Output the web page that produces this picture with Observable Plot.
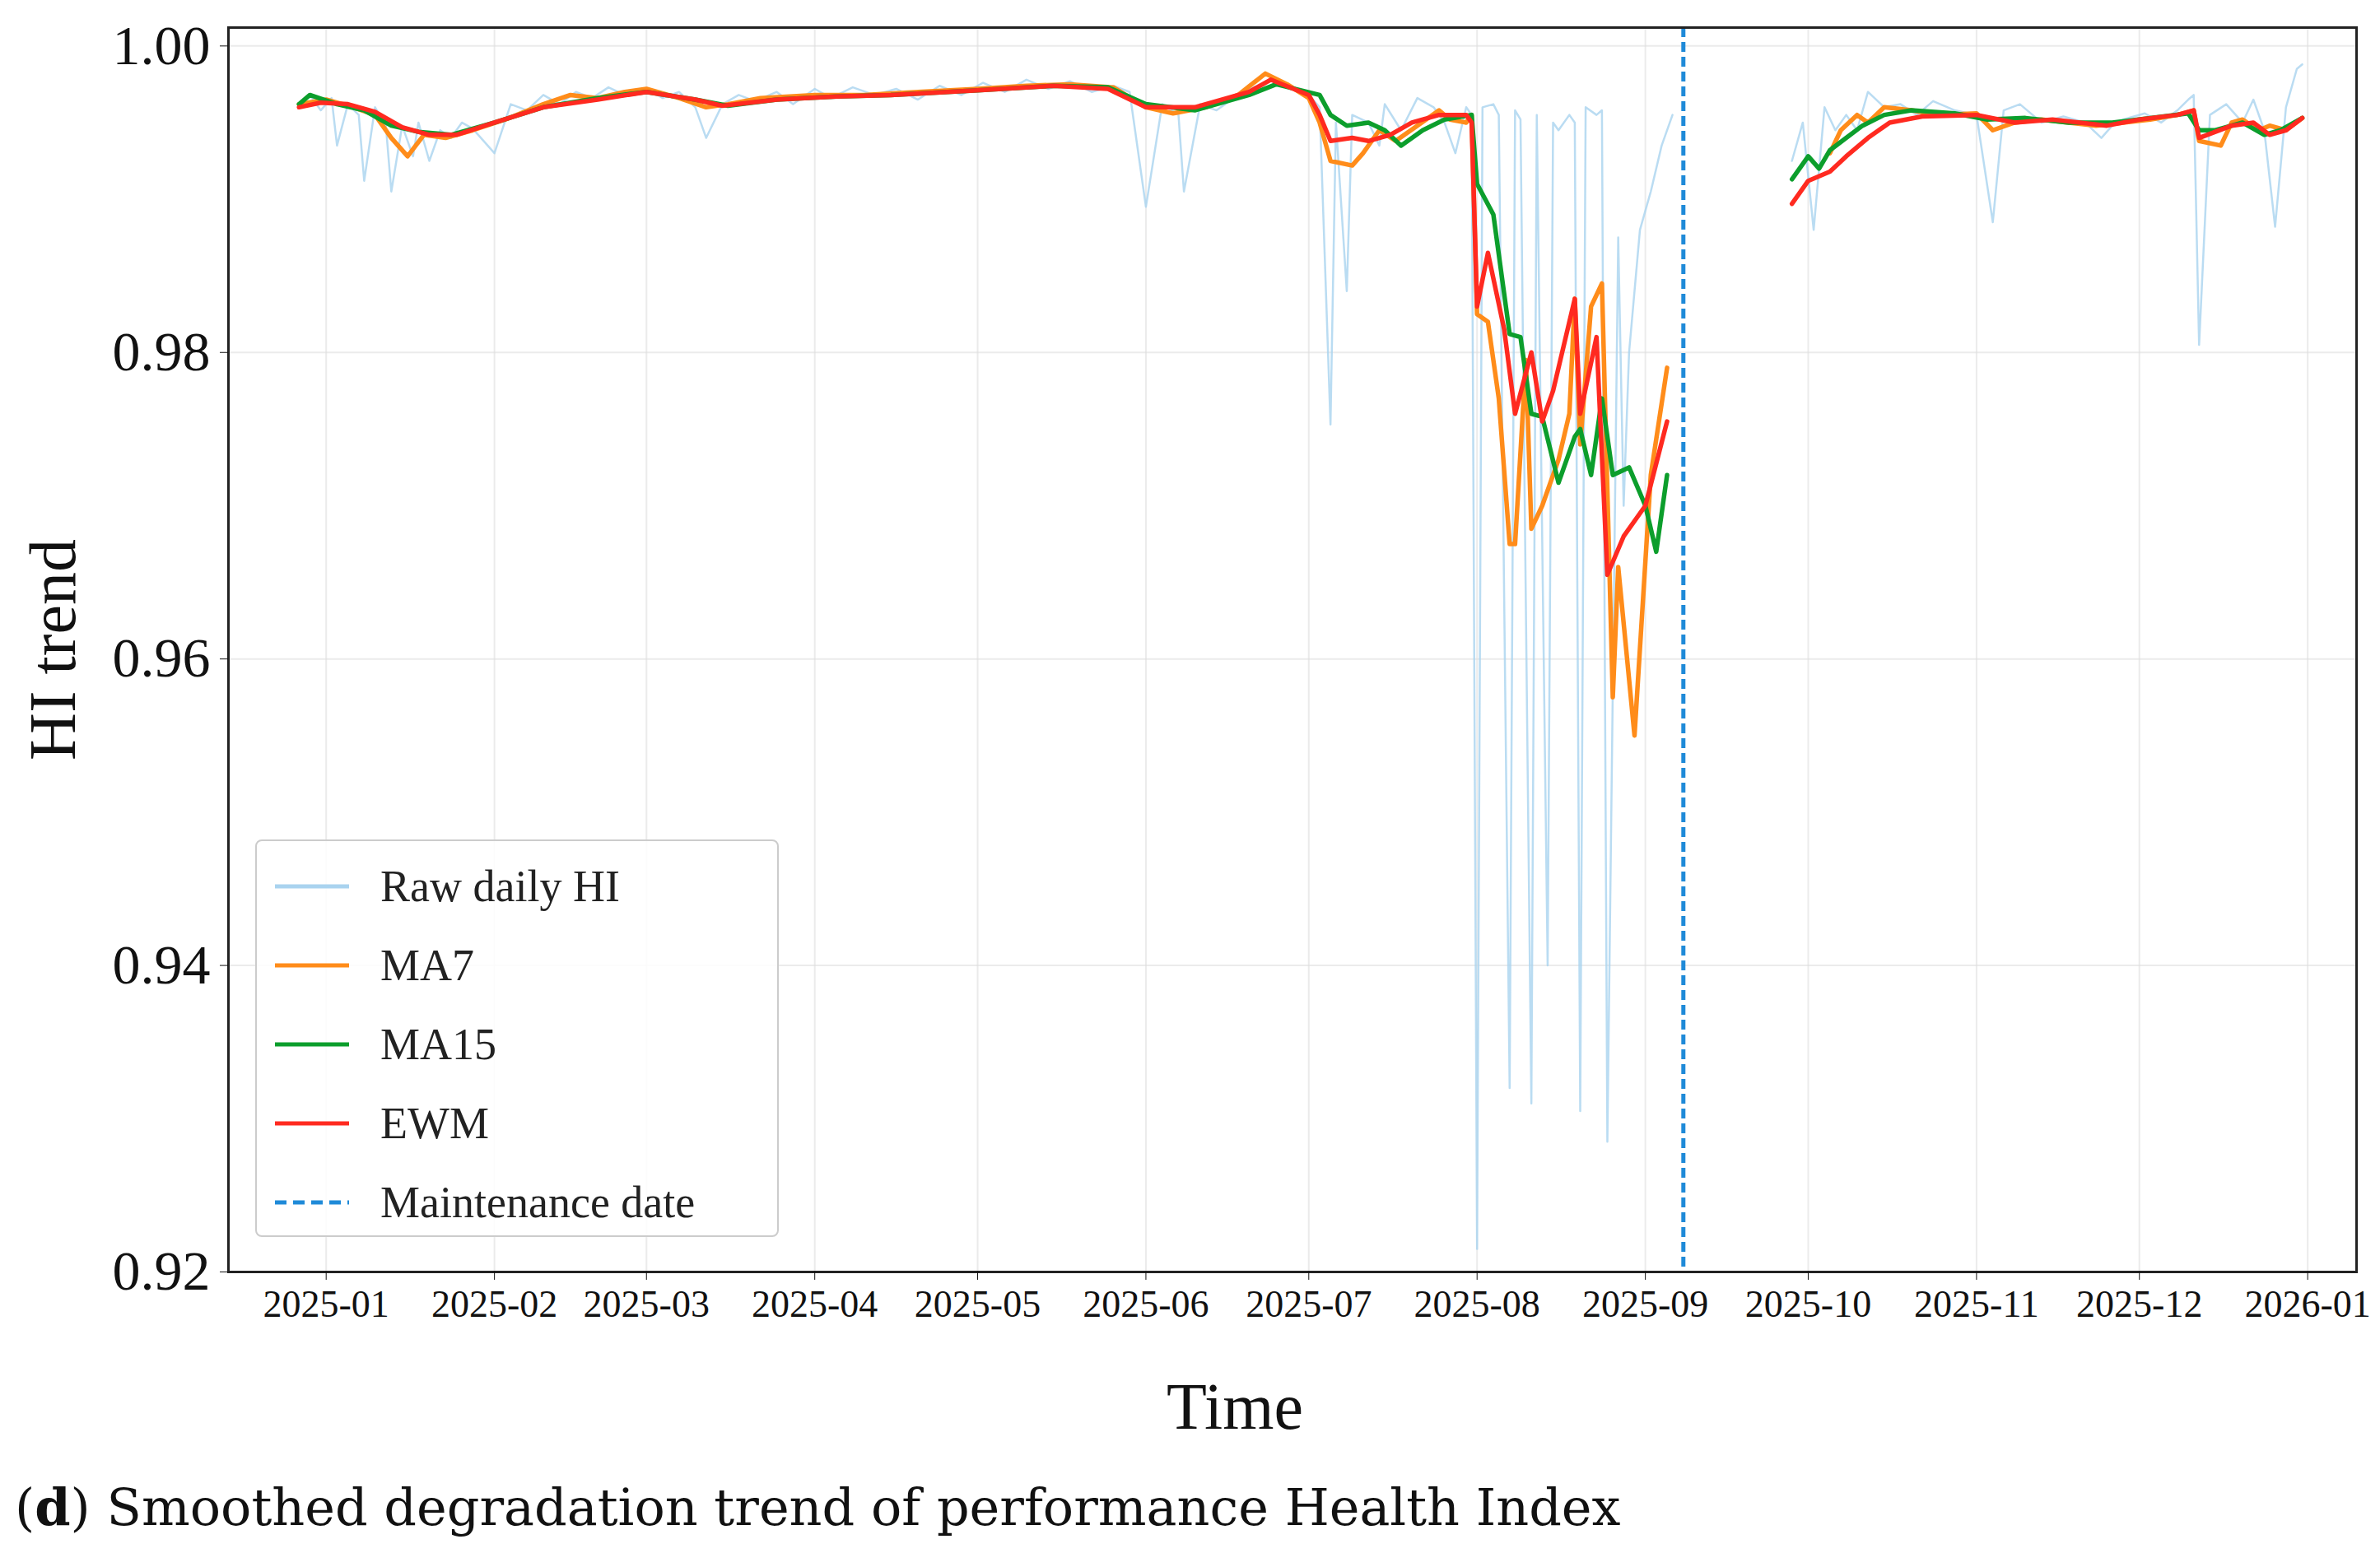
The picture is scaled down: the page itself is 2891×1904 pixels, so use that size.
<!DOCTYPE html>
<html><head><meta charset="utf-8">
<script src="https://cdn.jsdelivr.net/npm/d3@7"></script>
<script src="https://cdn.jsdelivr.net/npm/@observablehq/plot@0.6"></script>
<style>
body{margin:0;background:#fff;width:2891px;height:1904px;position:relative;overflow:hidden}
#chart{position:absolute;left:0;top:0}
#legend{position:absolute;left:310px;top:1020px;width:636px;height:483px;border:2px solid #ccc;border-radius:8px;background:rgba(255,255,255,0.85);box-sizing:border-box;font-family:"Liberation Serif",serif;font-size:54px;color:#222}
.row{position:absolute;left:22px;height:60px;display:flex;align-items:center}
.row svg{margin-right:38px}
#caption{position:absolute;left:18px;top:1795px;font-family:"DejaVu Serif","Liberation Serif",serif;font-size:62px;color:#111}
</style></head><body>
<div id="chart"></div>
<div id="legend"></div>
<div id="caption">(<b>d</b>) Smoothed degradation trend of performance Health Index</div>
<script>
const xTicks=["2025-01-01","2025-02-01","2025-03-01","2025-04-01","2025-05-01","2025-06-01","2025-07-01","2025-08-01","2025-09-01","2025-10-01","2025-11-01","2025-12-01","2026-01-01"];
const yTicks=[0.92,0.94,0.96,0.98,1.00];
const maintenanceDate="2025-09-08";
const gapDate="2025-09-15";

const rawDates=["2024-12-27","2024-12-29","2024-12-31","2025-01-02","2025-01-03","2025-01-05","2025-01-07","2025-01-08","2025-01-10","2025-01-12","2025-01-13","2025-01-15","2025-01-17","2025-01-18","2025-01-20","2025-01-22","2025-01-24","2025-01-26","2025-01-28","2025-02-01","2025-02-04","2025-02-07","2025-02-10","2025-02-13","2025-02-16","2025-02-19","2025-02-22","2025-02-25","2025-03-01","2025-03-04","2025-03-07","2025-03-10","2025-03-12","2025-03-15","2025-03-18","2025-03-21","2025-03-25","2025-03-28","2025-04-01","2025-04-04","2025-04-08","2025-04-12","2025-04-16","2025-04-20","2025-04-24","2025-04-28","2025-05-02","2025-05-06","2025-05-10","2025-05-14","2025-05-18","2025-05-22","2025-05-26","2025-05-29","2025-06-01","2025-06-04","2025-06-07","2025-06-08","2025-06-11","2025-06-14","2025-06-18","2025-06-22","2025-06-25","2025-06-28","2025-07-01","2025-07-03","2025-07-05","2025-07-06","2025-07-08","2025-07-09","2025-07-12","2025-07-14","2025-07-15","2025-07-18","2025-07-21","2025-07-24","2025-07-26","2025-07-28","2025-07-30","2025-07-31","2025-08-01","2025-08-02","2025-08-04","2025-08-05","2025-08-07","2025-08-08","2025-08-09","2025-08-11","2025-08-12","2025-08-14","2025-08-15","2025-08-16","2025-08-18","2025-08-19","2025-08-20","2025-08-21","2025-08-23","2025-08-24","2025-08-25","2025-08-27","2025-08-28","2025-08-29","2025-08-31","2025-09-02","2025-09-04","2025-09-06",gapDate,"2025-09-28","2025-09-30","2025-10-02","2025-10-04","2025-10-06","2025-10-08","2025-10-10","2025-10-12","2025-10-15","2025-10-18","2025-10-21","2025-10-24","2025-10-28","2025-11-01","2025-11-04","2025-11-06","2025-11-09","2025-11-13","2025-11-17","2025-11-21","2025-11-24","2025-11-26","2025-11-28","2025-12-02","2025-12-05","2025-12-08","2025-12-10","2025-12-11","2025-12-12","2025-12-14","2025-12-17","2025-12-20","2025-12-22","2025-12-24","2025-12-26","2025-12-28","2025-12-30","2025-12-31"];
const rawValues=[0.9962,0.9968,0.9958,0.9966,0.9935,0.9962,0.9955,0.9912,0.9960,0.9948,0.9905,0.9948,0.9928,0.9950,0.9925,0.9945,0.9940,0.9950,0.9946,0.9930,0.9962,0.9958,0.9968,0.9962,0.9970,0.9966,0.9973,0.9968,0.9972,0.9966,0.9970,0.9960,0.9940,0.9962,0.9968,0.9964,0.9970,0.9962,0.9972,0.9966,0.9973,0.9968,0.9972,0.9965,0.9974,0.9968,0.9976,0.9970,0.9978,0.9972,0.9977,0.9970,0.9974,0.9970,0.9895,0.9962,0.9955,0.9905,0.9962,0.9958,0.9968,0.9975,0.9978,0.9972,0.9968,0.9960,0.9753,0.9950,0.9840,0.9955,0.9950,0.9935,0.9962,0.9945,0.9966,0.9960,0.9950,0.9930,0.9960,0.9955,0.9215,0.9960,0.9962,0.9955,0.9320,0.9958,0.9952,0.9310,0.9955,0.9400,0.9950,0.9945,0.9955,0.9950,0.9305,0.9960,0.9955,0.9958,0.9285,0.9875,0.9700,0.9800,0.9880,0.9905,0.9935,0.9955,null,0.9925,0.9950,0.9880,0.9960,0.9945,0.9955,0.9945,0.9970,0.9960,0.9962,0.9955,0.9964,0.9958,0.9955,0.9885,0.9958,0.9962,0.9950,0.9954,0.9950,0.9940,0.9948,0.9952,0.9956,0.9950,0.9958,0.9965,0.9968,0.9805,0.9955,0.9962,0.9950,0.9965,0.9945,0.9882,0.9960,0.9985,0.9988];

const ma7Dates=["2024-12-27","2025-01-01","2025-01-06","2025-01-10","2025-01-13","2025-01-16","2025-01-19","2025-01-23","2025-01-28","2025-02-03","2025-02-10","2025-02-15","2025-02-20","2025-02-25","2025-03-01","2025-03-07","2025-03-12","2025-03-16","2025-03-22","2025-04-01","2025-04-10","2025-04-20","2025-05-01","2025-05-10","2025-05-18","2025-05-26","2025-06-01","2025-06-06","2025-06-12","2025-06-18","2025-06-23","2025-06-27","2025-07-01","2025-07-03","2025-07-05","2025-07-09","2025-07-11","2025-07-14","2025-07-17","2025-07-21","2025-07-25","2025-07-27","2025-07-30","2025-07-31","2025-08-01","2025-08-03","2025-08-05","2025-08-07","2025-08-08","2025-08-10","2025-08-11","2025-08-13","2025-08-16","2025-08-18","2025-08-19","2025-08-20","2025-08-22","2025-08-24","2025-08-26","2025-08-27","2025-08-30","2025-09-02","2025-09-05",gapDate,"2025-10-05","2025-10-07","2025-10-10","2025-10-12","2025-10-15","2025-10-20","2025-10-25","2025-11-01","2025-11-04","2025-11-08","2025-11-13","2025-11-18","2025-11-23","2025-11-28","2025-12-03","2025-12-08","2025-12-11","2025-12-12","2025-12-16","2025-12-18","2025-12-20","2025-12-23","2025-12-25","2025-12-28","2025-12-31"];
const ma7Values=[0.9962,0.9965,0.9960,0.9955,0.9940,0.9928,0.9942,0.9940,0.9945,0.9952,0.9962,0.9968,0.9966,0.9970,0.9972,0.9966,0.9960,0.9962,0.9966,0.9968,0.9968,0.9970,0.9972,0.9974,0.9975,0.9973,0.9960,0.9956,0.9960,0.9968,0.9982,0.9975,0.9966,0.9950,0.9925,0.9922,0.9930,0.9945,0.9938,0.9948,0.9958,0.9952,0.9950,0.9955,0.9825,0.9820,0.9770,0.9675,0.9675,0.9795,0.9685,0.9700,0.9730,0.9760,0.9835,0.9740,0.9830,0.9845,0.9575,0.9660,0.9550,0.9720,0.9790,null,0.9930,0.9945,0.9955,0.9950,0.9960,0.9958,0.9955,0.9956,0.9945,0.9950,0.9952,0.9950,0.9948,0.9950,0.9952,0.9955,0.9958,0.9938,0.9935,0.9950,0.9952,0.9945,0.9948,0.9945,0.9953];

const ma15Dates=["2024-12-27","2024-12-29","2025-01-03","2025-01-08","2025-01-13","2025-01-18","2025-01-24","2025-02-01","2025-02-10","2025-02-20","2025-03-01","2025-03-10","2025-03-16","2025-03-25","2025-04-05","2025-04-15","2025-05-01","2025-05-15","2025-05-25","2025-06-01","2025-06-10","2025-06-20","2025-06-25","2025-07-03","2025-07-05","2025-07-08","2025-07-12","2025-07-15","2025-07-18","2025-07-22","2025-07-26","2025-07-31","2025-08-01","2025-08-04","2025-08-07","2025-08-09","2025-08-11","2025-08-13","2025-08-16","2025-08-19","2025-08-20","2025-08-22","2025-08-24","2025-08-26","2025-08-29","2025-09-01","2025-09-03","2025-09-05",gapDate,"2025-09-28","2025-10-01","2025-10-03","2025-10-05","2025-10-08","2025-10-11","2025-10-15","2025-10-20","2025-10-28","2025-11-03","2025-11-10","2025-11-18","2025-11-26","2025-12-03","2025-12-10","2025-12-12","2025-12-15","2025-12-20","2025-12-24","2025-12-27","2025-12-31"];
const ma15Values=[0.9962,0.9968,0.9962,0.9958,0.9948,0.9944,0.9942,0.9950,0.9960,0.9966,0.9970,0.9965,0.9961,0.9965,0.9967,0.9968,0.9971,0.9974,0.9973,0.9962,0.9958,0.9968,0.9975,0.9968,0.9955,0.9948,0.9950,0.9945,0.9935,0.9945,0.9952,0.9955,0.9910,0.9890,0.9812,0.9810,0.9760,0.9758,0.9715,0.9745,0.9750,0.9720,0.9770,0.9720,0.9725,0.9700,0.9670,0.9720,null,0.9913,0.9928,0.9920,0.9932,0.9940,0.9948,0.9955,0.9958,0.9956,0.9952,0.9953,0.9950,0.9950,0.9953,0.9956,0.9945,0.9945,0.9950,0.9942,0.9945,0.9953];

const ewmDates=["2024-12-27","2024-12-31","2025-01-05","2025-01-10","2025-01-15","2025-01-20","2025-01-25","2025-02-01","2025-02-10","2025-02-20","2025-03-01","2025-03-10","2025-03-15","2025-03-25","2025-04-05","2025-04-15","2025-05-01","2025-05-15","2025-05-25","2025-06-01","2025-06-10","2025-06-20","2025-06-24","2025-07-01","2025-07-03","2025-07-05","2025-07-09","2025-07-12","2025-07-16","2025-07-20","2025-07-25","2025-07-30","2025-07-31","2025-08-01","2025-08-03","2025-08-06","2025-08-08","2025-08-11","2025-08-13","2025-08-15","2025-08-19","2025-08-20","2025-08-23","2025-08-25","2025-08-28","2025-09-01","2025-09-05",gapDate,"2025-09-28","2025-10-01","2025-10-05","2025-10-08","2025-10-12","2025-10-16","2025-10-22","2025-11-01","2025-11-08","2025-11-15","2025-11-25","2025-12-01","2025-12-08","2025-12-11","2025-12-12","2025-12-18","2025-12-22","2025-12-25","2025-12-28","2025-12-31"];
const ewmValues=[0.9960,0.9963,0.9962,0.9957,0.9947,0.9942,0.9942,0.9950,0.9960,0.9965,0.9970,0.9965,0.9961,0.9965,0.9967,0.9968,0.9971,0.9974,0.9972,0.9960,0.9960,0.9970,0.9978,0.9968,0.9955,0.9938,0.9940,0.9938,0.9942,0.9950,0.9955,0.9955,0.9950,0.9830,0.9865,0.9815,0.9760,0.9800,0.9755,0.9775,0.9835,0.9760,0.9810,0.9655,0.9680,0.9700,0.9755,null,0.9897,0.9912,0.9918,0.9928,0.9940,0.9950,0.9954,0.9955,0.9950,0.9952,0.9948,0.9952,0.9955,0.9958,0.9940,0.9948,0.9950,0.9942,0.9945,0.9953];

const rows=(ds,vs)=>ds.map((d,i)=>({date:new Date(d),value:vs[i]}));
const series=[
 {name:"Raw daily HI",color:"#a9d3ef",width:2.5,opacity:0.8,data:rows(rawDates,rawValues)},
 {name:"MA7",color:"#ff8c1a",width:5.5,opacity:1,data:rows(ma7Dates,ma7Values)},
 {name:"MA15",color:"#0c9e2c",width:5.5,opacity:1,data:rows(ma15Dates,ma15Values)},
 {name:"EWM",color:"#ff2a20",width:5.5,opacity:1,data:rows(ewmDates,ewmValues)}
];
const maint="#1f8ad8";

const chart=Plot.plot({
  width:2891,height:1780,
  marginTop:33,marginBottom:235,marginLeft:277,marginRight:29,
  style:{fontFamily:"Liberation Serif, serif",background:"white",color:"#111"},
  x:{type:"utc",domain:[new Date("2024-12-14"),new Date("2026-01-10")],label:null},
  y:{domain:[0.92,1.0012],label:null},
  marks:[
    Plot.gridX(xTicks.map(d=>new Date(d)),{stroke:"#ddd",strokeOpacity:0.6,strokeWidth:2}),
    Plot.gridY(yTicks,{stroke:"#ddd",strokeOpacity:0.6,strokeWidth:2}),
    ...series.map(s=>Plot.line(s.data,{x:"date",y:"value",stroke:s.color,strokeWidth:s.width,strokeOpacity:s.opacity,curve:"linear"})),
    Plot.ruleX([new Date(maintenanceDate)],{stroke:maint,strokeWidth:5,strokeDasharray:"12,6"}),
    Plot.frame({stroke:"#222",strokeWidth:3}),
    Plot.axisX({ticks:xTicks.map(d=>new Date(d)),tickFormat:d3.utcFormat("%Y-%m"),fontSize:46,tickSize:10,label:null,tickPadding:12}),
    Plot.axisY({ticks:yTicks,tickFormat:d3.format(".2f"),fontSize:68,tickSize:10,label:null,tickPadding:12}),
    Plot.text(["Time"],{frameAnchor:"bottom",dx:-70,dy:190,fontSize:80,fill:"#111"}),
    Plot.text(["HI trend"],{frameAnchor:"left",textAnchor:"middle",dx:-212,rotate:-90,fontSize:80,fill:"#111"})
  ]
});
document.getElementById("chart").append(chart);

const leg=document.getElementById("legend");
const items=[...series.map(s=>({name:s.name,color:s.color,dash:null,w:5})),{name:"Maintenance date",color:maint,dash:"14,8",w:5}];
items.forEach((it,i)=>{
  const r=document.createElement("div");r.className="row";r.style.top=(25+i*96)+"px";
  r.innerHTML=`<svg width="90" height="20"><line x1="0" x2="90" y1="10" y2="10" stroke="${it.color}" stroke-width="${it.w}" ${it.dash?`stroke-dasharray="${it.dash}"`:""}/></svg><span>${it.name}</span>`;
  leg.append(r);
});
</script></body></html>
